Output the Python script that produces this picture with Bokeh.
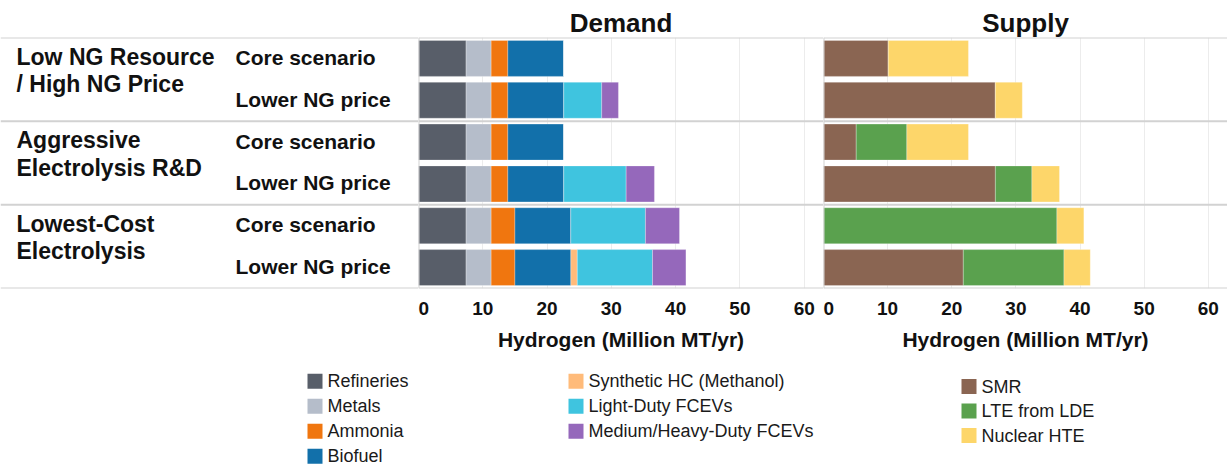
from bokeh.plotting import figure
from bokeh.layouts import row, column
from bokeh.models import ColumnDataSource, Range1d, Span
from bokeh.embed import file_html
from bokeh.resources import INLINE
from bokeh.core.properties import value

# ---------------- data ----------------
groups = ["Low NG Resource\n/ High NG Price", "Aggressive\nElectrolysis R&D", "Lowest-Cost\nElectrolysis"]
scenarios = ["Core scenario", "Lower NG price"]

demand_categories = ["Refineries", "Metals", "Ammonia", "Biofuel",
                     "Synthetic HC (Methanol)", "Light-Duty FCEVs", "Medium/Heavy-Duty FCEVs"]
demand_colors = ["#585e69", "#b5bdca", "#f0760f", "#1270aa", "#ffbb7a", "#3fc4df", "#9568bb"]
refineries = [7.4, 7.4, 7.4, 7.4, 7.4, 7.4]
metals = [3.9, 3.9, 3.9, 3.9, 3.9, 3.9]
ammonia = [2.6, 2.6, 2.6, 2.6, 3.7, 3.7]
biofuel = [8.7, 8.7, 8.7, 8.7, 8.7, 8.7]
synthetic_hc = [0, 0, 0, 0, 0, 1.0]
light_duty = [0, 5.9, 0, 9.7, 11.6, 11.7]
medium_heavy = [0, 2.6, 0, 4.4, 5.3, 5.2]

supply_categories = ["SMR", "LTE from LDE", "Nuclear HTE"]
supply_colors = ["#8a6552", "#5aa14e", "#fdd66a"]
smr = [10.1, 26.8, 5.1, 26.8, 0, 21.8]
lte = [0, 0, 7.9, 5.7, 36.4, 15.7]
nuclear = [12.5, 4.2, 9.6, 4.3, 4.2, 4.1]

x_ticks = [0, 10, 20, 30, 40, 50, 60]
x_max = 63
axis_title = "Hydrogen (Million MT/yr)"

# ---------------- layout constants ----------------
FONT = "Liberation Sans"
TOP = 37
FRAME_H = 251
BOTTOM = 67
TOP_H = TOP + FRAME_H + BOTTOM
n_rows = len(groups) * len(scenarios)
row_y = [i + 0.5 for i in range(n_rows)]
group_y = [g * len(scenarios) + len(scenarios) / 2 for g in range(len(groups))]
bounds = [g * len(scenarios) for g in range(len(groups) + 1)]
SEP_COLOR = "#d2d2d2"


def add_separators(p):
    for b in bounds:
        p.add_layout(Span(location=b, dimension="width", line_color=SEP_COLOR, line_width=2))


def bar_panel(title, width, categories, colors, series):
    data = {"y": row_y}
    for c, s in zip(categories, series):
        data[c] = s
    src = ColumnDataSource(data)
    p = figure(width=width, height=TOP_H, x_range=Range1d(0, x_max), y_range=Range1d(n_rows, 0),
               output_backend="svg", toolbar_location=None, y_axis_location=None,
               min_border=0, min_border_top=TOP, min_border_bottom=BOTTOM,
               outline_line_color=None, title=title)
    p.title.text_font = FONT
    p.title.text_font_size = "26px"
    p.title.text_font_style = "bold"
    p.title.align = "center"
    p.title.standoff = 0
    p.title.text_color = "#111111"
    p.hbar_stack(categories, y="y", height=0.86, color=colors, source=src,
                 line_color="white", line_alpha=0.45, line_width=0.6)
    p.xaxis.ticker = x_ticks
    p.xaxis.axis_label = axis_title
    p.xaxis.axis_line_color = None
    p.xaxis.major_tick_line_color = None
    p.xaxis.minor_tick_line_color = None
    p.xaxis.major_label_text_font = FONT
    p.xaxis.major_label_text_font_size = "19px"
    p.xaxis.major_label_text_font_style = "bold"
    p.xaxis.major_label_text_color = "#111111"
    p.xaxis.major_label_standoff = 7
    p.xaxis.axis_label_text_font = FONT
    p.xaxis.axis_label_text_font_size = "21px"
    p.xaxis.axis_label_text_font_style = "bold"
    p.xaxis.axis_label_text_color = "#111111"
    p.xaxis.axis_label_standoff = 10
    p.xgrid.ticker = x_ticks
    p.xgrid.grid_line_color = "#ececec"
    p.ygrid.grid_line_color = None
    add_separators(p)
    p.add_layout(Span(location=0, dimension="height", line_color=SEP_COLOR, line_width=2))
    return p


demand = bar_panel("Demand", 405, demand_categories, demand_colors,
                   [refineries, metals, ammonia, biofuel, synthetic_hc, light_duty, medium_heavy])
supply = bar_panel("Supply", 404, supply_categories, supply_colors, [smr, lte, nuclear])

# ---------------- row labels ----------------
LAB_W = 418
lab = figure(width=LAB_W, height=TOP_H, x_range=Range1d(0, LAB_W), y_range=Range1d(n_rows, 0),
             output_backend="svg", toolbar_location=None, x_axis_location=None, y_axis_location=None,
             min_border=0, min_border_top=TOP, min_border_bottom=BOTTOM,
             outline_line_color=None, title=" ")
lab.title.text_font = FONT
lab.title.text_font_size = "26px"
lab.title.standoff = 0
lab.xgrid.grid_line_color = None
lab.ygrid.grid_line_color = None
add_separators(lab)
lab.text(x=[16] * len(groups), y=group_y, text=groups, text_baseline="middle", y_offset=-9,
         text_font=value(FONT), text_font_size="23px", text_font_style="bold",
         text_color="#111111", text_line_height=1.05)
scen_text = [s for g in groups for s in scenarios]
lab.text(x=[235] * n_rows, y=row_y, text=scen_text, text_baseline="middle", y_offset=-1,
         text_font=value(FONT), text_font_size="21px", text_font_style="bold", text_color="#111111")

# ---------------- legend ----------------
LEG_W, LEG_H = 1227, 110
leg = figure(width=LEG_W, height=LEG_H, x_range=Range1d(0, LEG_W), y_range=Range1d(LEG_H, 0),
             output_backend="svg", toolbar_location=None, x_axis_location=None, y_axis_location=None,
             min_border=0, outline_line_color=None)
leg.xgrid.grid_line_color = None
leg.ygrid.grid_line_color = None

legend_cols = [
    (demand_categories[:4], demand_colors[:4], 307, 25.7, 25),
    (demand_categories[4:], demand_colors[4:], 568, 25.7, 25),
    (supply_categories, supply_colors, 961, 31, 24.5),
]
for names, cols, x0, y0, pitch in legend_cols:
    ys = [y0 + k * pitch for k in range(len(names))]
    leg.scatter(x=[x0 + 7.5] * len(names), y=ys, marker="square", size=15, color=cols, line_color=None)
    leg.text(x=[x0 + 20] * len(names), y=ys, text=names, text_baseline="middle",
             text_font=value(FONT), text_font_size="18px", text_color="#1a1a1a")

layout = column(row(lab, demand, supply), leg)

with open("out.html", "w") as f:
    f.write(file_html(layout, INLINE))
